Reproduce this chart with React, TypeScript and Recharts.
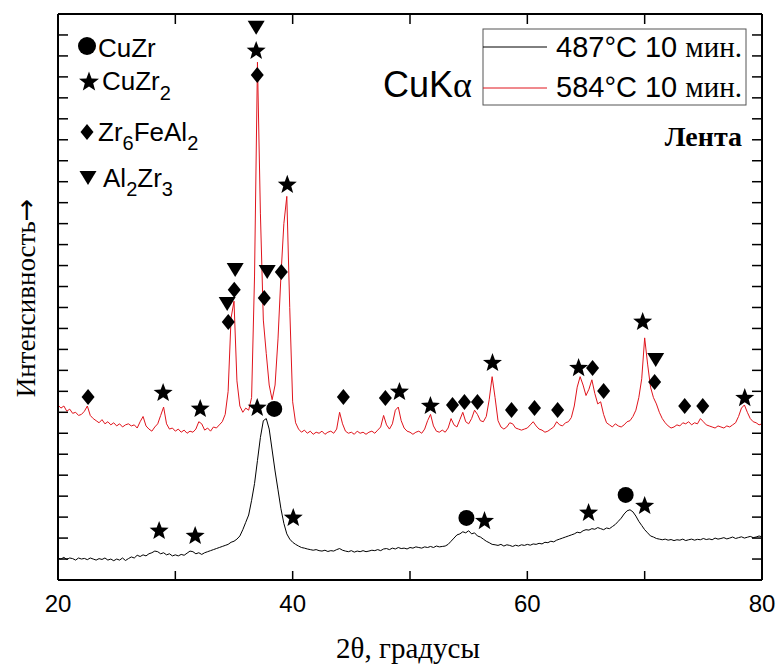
import { ComposedChart, Line, Scatter, XAxis, YAxis } from "recharts";

// 2θ sampling grid, degrees (step 0.25 from 20 to 80)
const thetaStart = 20;
const thetaStep = 0.25;

// 487°C 10 min (black), arbitrary units
const black487 = [
  1.05, 1.0, 1.08, 0.98, 1.05, 1.02, 0.95, 1.05, // 20
  1.0, 1.03, 0.97, 1.05, 1.0, 0.95, 1.02, 0.98, // 22
  1.05, 0.95, 1.0, 0.92, 1.0, 0.95, 1.05, 0.93, // 24
  1.02, 1.1, 1.05, 1.18, 1.12, 1.2, 1.15, 1.25, // 26
  1.3, 1.38, 1.35, 1.25, 1.3, 1.2, 1.25, 1.15, // 28
  1.2, 1.15, 1.22, 1.18, 1.28, 1.38, 1.35, 1.25, // 30
  1.3, 1.22, 1.3, 1.35, 1.4, 1.45, 1.5, 1.55, // 32
  1.6, 1.65, 1.7, 1.8, 1.85, 1.95, 2.1, 2.4, // 34
  2.75, 3.1, 3.8, 4.6, 5.7, 6.8, 7.6, 7.7, // 36
  7.2, 6.2, 5.2, 4.3, 3.4, 2.7, 2.2, 1.95, // 38
  1.8, 1.7, 1.62, 1.55, 1.52, 1.48, 1.45, 1.42, // 40
  1.45, 1.4, 1.38, 1.42, 1.36, 1.4, 1.38, 1.45, // 42
  1.5, 1.42, 1.38, 1.35, 1.4, 1.33, 1.38, 1.35, // 44
  1.4, 1.35, 1.38, 1.42, 1.4, 1.45, 1.4, 1.48, // 46
  1.5, 1.45, 1.52, 1.48, 1.55, 1.5, 1.52, 1.48, // 48
  1.55, 1.52, 1.58, 1.55, 1.52, 1.58, 1.55, 1.6, // 50
  1.55, 1.62, 1.58, 1.6, 1.62, 1.7, 1.85, 2.0, // 52
  2.15, 2.2, 2.3, 2.25, 2.35, 2.2, 2.25, 2.1, // 54
  2.05, 1.95, 1.85, 1.78, 1.7, 1.68, 1.65, 1.7, // 56
  1.62, 1.68, 1.65, 1.6, 1.66, 1.62, 1.68, 1.65, // 58
  1.7, 1.66, 1.72, 1.7, 1.75, 1.72, 1.8, 1.78, // 60
  1.85, 1.82, 1.9, 1.95, 2.0, 2.05, 2.1, 2.15, // 62
  2.2, 2.28, 2.25, 2.35, 2.4, 2.38, 2.45, 2.42, // 64
  2.5, 2.45, 2.4, 2.48, 2.45, 2.55, 2.65, 2.8, // 66
  2.95, 3.15, 3.3, 3.35, 3.25, 3.05, 2.8, 2.6, // 68
  2.4, 2.25, 2.1, 2.05, 1.98, 1.95, 1.92, 1.95, // 70
  1.9, 1.93, 1.88, 1.92, 1.9, 1.95, 1.88, 1.92, // 72
  1.95, 1.9, 1.94, 1.92, 1.98, 1.93, 1.96, 1.92, // 74
  2.0, 1.95, 1.98, 2.02, 1.96, 2.0, 2.05, 1.98, // 76
  2.02, 2.06, 2.0, 2.04, 2.08, 2.02, 2.05, 2.1, // 78
  2.06,
];

// 584°C 10 min (red)
const red584 = [
  8.35, 8.2, 8.3, 8.05, 8.15, 7.95, 8.0, 7.85, // 20
  7.9, 8.05, 8.3, 7.85, 7.7, 7.6, 7.5, 7.65, // 22
  7.45, 7.55, 7.4, 7.5, 7.35, 7.45, 7.3, 7.4, // 24
  7.45, 7.35, 7.4, 7.25, 7.55, 7.8, 7.35, 7.2, // 26
  7.1, 7.3, 7.45, 7.85, 8.25, 7.45, 7.2, 7.25, // 28
  7.1, 7.2, 7.05, 7.15, 7.0, 7.1, 7.05, 7.2, // 30
  7.55, 7.45, 7.15, 7.25, 7.1, 7.3, 7.25, 7.4, // 32
  7.55, 7.9, 9.0, 12.5, 13.3, 9.5, 8.3, 8.0, // 34
  8.2, 8.1, 8.7, 14.5, 24.7, 17.5, 12.4, 10.8, // 36
  9.3, 8.6, 9.3, 11.5, 14.5, 17.0, 18.3, 13.0, // 38
  8.5, 7.5, 7.2, 7.05, 7.15, 7.0, 7.1, 6.95, // 40
  7.05, 7.0, 7.1, 6.95, 7.05, 7.1, 7.0, 7.2, // 42
  8.0, 7.45, 7.1, 7.0, 7.05, 6.95, 7.1, 7.0, // 44
  7.05, 6.95, 7.05, 7.1, 7.0, 7.15, 7.3, 7.85, // 46
  7.4, 7.2, 7.45, 8.1, 8.25, 7.6, 7.25, 7.1, // 48
  7.05, 6.95, 7.05, 7.1, 7.0, 7.2, 7.6, 7.9, // 50
  7.35, 7.1, 7.05, 7.15, 7.05, 7.25, 7.7, 7.4, // 52
  7.3, 7.65, 8.0, 7.55, 7.45, 7.7, 8.1, 7.9, // 54
  7.6, 7.55, 7.8, 8.6, 9.7, 8.7, 7.6, 7.3, // 56
  7.2, 7.3, 7.5, 7.45, 7.25, 7.2, 7.15, 7.2, // 58
  7.25, 7.4, 7.55, 7.35, 7.2, 7.15, 7.05, 7.1, // 60
  7.2, 7.3, 7.55, 7.4, 7.35, 7.5, 7.55, 7.75, // 62
  8.3, 9.2, 9.7, 9.3, 8.8, 9.1, 9.55, 8.9, // 64
  8.4, 8.5, 7.9, 7.5, 7.4, 7.3, 7.45, 7.35, // 66
  7.3, 7.4, 7.55, 7.6, 7.8, 8.1, 8.7, 9.6, // 68
  11.55, 10.3, 9.2, 8.7, 8.4, 8.0, 7.7, 7.5, // 70
  7.35, 7.25, 7.3, 7.4, 7.35, 7.5, 7.45, 7.55, // 72
  7.4, 7.5, 7.45, 7.7, 7.55, 7.4, 7.35, 7.3, // 74
  7.25, 7.35, 7.3, 7.25, 7.35, 7.3, 7.4, 7.5, // 76
  7.8, 8.2, 8.35, 8.0, 7.7, 7.55, 7.5, 7.4, // 78
  7.45,
];

// phase markers: [2θ, height]
const cuZrMarks = [
  [38.43, 8.16], [54.81, 2.96], [68.38, 4.06],
];
const cuZr2Marks = [
  [28.96, 8.92], [32.12, 8.16], [36.89, 25.24], [39.54, 18.85], [49.1, 8.97],
  [51.74, 8.3], [57.03, 10.35], [64.37, 10.11], [69.83, 12.31], [78.53, 8.68],
  [36.98, 8.21], [28.62, 2.34], [31.69, 2.1], [40.05, 2.96], [56.35, 2.81],
  [65.22, 3.2], [70.0, 3.53],
];
const zr6FeAl2Marks = [
  [22.56, 8.73], [34.51, 12.31], [35.02, 13.84], [36.98, 24.09], [37.58, 13.45],
  [39.03, 14.69], [44.32, 8.73], [47.9, 8.68], [53.62, 8.35], [54.64, 8.49],
  [55.75, 8.49], [58.65, 8.11], [60.61, 8.21], [62.58, 8.11], [65.56, 10.11],
  [66.5, 9.02], [70.85, 9.45], [73.41, 8.3], [74.95, 8.3],
];
const al2Zr3Marks = [
  [34.42, 13.17], [35.1, 14.79], [36.89, 26.34], [37.83, 14.69], [70.94, 10.5],
];

const xTicks = [20, 30, 40, 50, 60, 70, 80];
const xLabels = [20, 40, 60, 80];
const yTicks = [
  1, 2, 3, 4, 5, 6, 7, 8, 9, 10, 11, 12, 13, 14, 15, 16, 17, 18, 19, 20, 21,
  22, 23, 24, 25, 26,
];

const table = red584.map((red, i) => ({
  t: thetaStart + i * thetaStep,
  red,
  black: black487[i],
}));

const toPoints = (marks: number[][]) => marks.map(([t, v]) => ({ t, v }));

const SANS = "'Liberation Sans', Arial, sans-serif";
const SERIF = "'Liberation Serif', 'Times New Roman', serif";
const RED = "#e0141c";

function starPath(cx: number, cy: number, R: number, r: number) {
  const pts: string[] = [];
  for (let k = 0; k < 10; k++) {
    const rad = k % 2 === 0 ? R : r;
    const a = -Math.PI / 2 + (k * Math.PI) / 5;
    pts.push(`${cx + rad * Math.cos(a)},${cy + rad * Math.sin(a)}`);
  }
  return pts.join(" ");
}

const Star = ({ cx, cy, R = 10 }: any) => (
  <polygon points={starPath(cx, cy, R, R * 0.42)} fill="#000" />
);
const Diamond = ({ cx, cy }: any) => (
  <polygon
    points={`${cx},${cy - 8} ${cx + 6.5},${cy} ${cx},${cy + 8} ${cx - 6.5},${cy}`}
    fill="#000"
  />
);
const Dot = ({ cx, cy, r = 8 }: any) => <circle cx={cx} cy={cy} r={r} fill="#000" />;
const Tri = ({ cx, cy }: any) => (
  <polygon
    points={`${cx - 8.5},${cy - 7} ${cx + 8.5},${cy - 7} ${cx},${cy + 7}`}
    fill="#000"
  />
);

const BottomTick = ({ x, y, payload }: any) => (
  <g>
    <line x1={x} x2={x} y1={y} y2={y - 9} stroke="#000" strokeWidth={1.5} />
    {xLabels.includes(payload.value) && (
      <text x={x} y={y + 32} textAnchor="middle" fontSize={24} fontFamily={SANS}>
        {payload.value}
      </text>
    )}
  </g>
);
const TopTick = ({ x, y, payload }: any) =>
  payload.value > 20 && payload.value < 80 ? (
    <line x1={x} x2={x} y1={y} y2={y + 10} stroke="#000" strokeWidth={1.5} />
  ) : (
    <g />
  );
const LeftTick = ({ x, y }: any) => (
  <line x1={x} x2={x + 10} y1={y} y2={y} stroke="#000" strokeWidth={1.5} />
);
const RightTick = ({ x, y }: any) => (
  <line x1={x} x2={x - 10} y1={y} y2={y} stroke="#000" strokeWidth={1.5} />
);

const frame = { stroke: "#000", strokeWidth: 2 };

export default function App() {
  return (
    <div
      style={{
        position: "absolute",
        left: 0,
        top: 0,
        width: 776,
        height: 665,
        background: "#fff",
      }}
    >
      <ComposedChart
        width={776}
        height={665}
        data={table}
        margin={{ top: 13, right: 13, bottom: 84, left: 57 }}
      >
        <XAxis
          dataKey="t"
          type="number"
          domain={[20, 80]}
          ticks={xTicks}
          interval={0}
          allowDataOverflow
          height={1}
          tickSize={0}
          tickMargin={0}
          tickLine={false}
          axisLine={frame}
          tick={<BottomTick />}
        />
        <XAxis
          xAxisId="top"
          orientation="top"
          dataKey="t"
          type="number"
          domain={[20, 80]}
          ticks={xTicks}
          interval={0}
          allowDataOverflow
          height={1}
          tickSize={0}
          tickMargin={0}
          tickLine={false}
          axisLine={frame}
          tick={<TopTick />}
        />
        <YAxis
          type="number"
          domain={[0, 27]}
          ticks={yTicks}
          interval={0}
          allowDataOverflow
          width={1}
          tickSize={0}
          tickMargin={0}
          tickLine={false}
          axisLine={frame}
          tick={<LeftTick />}
        />
        <YAxis
          yAxisId="right"
          orientation="right"
          type="number"
          domain={[0, 27]}
          ticks={yTicks}
          interval={0}
          allowDataOverflow
          width={1}
          tickSize={0}
          tickMargin={0}
          tickLine={false}
          axisLine={frame}
          tick={<RightTick />}
        />
        <Line
          dataKey="black"
          stroke="#000"
          strokeWidth={1}
          dot={false}
          isAnimationActive={false}
        />
        <Line
          dataKey="red"
          stroke={RED}
          strokeWidth={1}
          dot={false}
          isAnimationActive={false}
        />
        <Scatter
          data={toPoints(cuZrMarks)}
          dataKey="v"
          shape={<Dot />}
          isAnimationActive={false}
        />
        <Scatter
          data={toPoints(cuZr2Marks)}
          dataKey="v"
          shape={<Star />}
          isAnimationActive={false}
        />
        <Scatter
          data={toPoints(zr6FeAl2Marks)}
          dataKey="v"
          shape={<Diamond />}
          isAnimationActive={false}
        />
        <Scatter
          data={toPoints(al2Zr3Marks)}
          dataKey="v"
          shape={<Tri />}
          isAnimationActive={false}
        />
      </ComposedChart>

      <svg
        width={776}
        height={665}
        style={{ position: "absolute", left: 0, top: 0, pointerEvents: "none" }}
      >
        {/* phase legend */}
        <Dot cx={87} cy={46} r={9} />
        <text x={98} y={57} fontSize={26} fontFamily={SANS}>CuZr</text>
        <Star cx={89} cy={82} R={10.5} />
        <text x={102} y={90} fontSize={26} fontFamily={SANS}>
          CuZr<tspan dy={10} fontSize={20}>2</tspan>
        </text>
        <Diamond cx={87} cy={132} />
        <text x={98} y={141} fontSize={26} fontFamily={SANS}>
          Zr<tspan dy={9} fontSize={20}>6</tspan>
          <tspan dy={-9}>FeAl</tspan>
          <tspan dy={9} fontSize={20}>2</tspan>
        </text>
        <Tri cx={88} cy={178} />
        <text x={103} y={187} fontSize={26} fontFamily={SANS}>
          Al<tspan dy={9} fontSize={20}>2</tspan>
          <tspan dy={-9}>Zr</tspan>
          <tspan dy={9} fontSize={20}>3</tspan>
        </text>

        {/* series legend */}
        <rect x={483} y={29} width={263} height={76} fill="#fff" stroke="#555" strokeWidth={1} />
        <line x1={483} x2={547} y1={47} y2={47} stroke="#000" strokeWidth={1} />
        <line x1={483} x2={547} y1={88} y2={88} stroke={RED} strokeWidth={1} />
        <text x={556} y={57} fontSize={29} fontFamily={SANS}>
          487°C 10 <tspan fontFamily={SERIF}>мин.</tspan>
        </text>
        <text x={556} y={97} fontSize={29} fontFamily={SANS}>
          584°C 10 <tspan fontFamily={SERIF}>мин.</tspan>
        </text>
        <text x={383} y={97} fontSize={36} fontFamily={SANS}>
          CuK<tspan fontFamily={SERIF}>α</tspan>
        </text>
        <text x={742} y={146} textAnchor="end" fontSize={28} fontWeight="bold" fontFamily={SERIF}>
          Лента
        </text>

        {/* axis titles */}
        <text
          transform="translate(35,298) rotate(-90)"
          textAnchor="middle"
          fontSize={27}
          fontFamily={SERIF}
        >
          Интенсивность<tspan fontFamily="'DejaVu Sans', sans-serif">→</tspan>
        </text>
        <text x={408} y={658} textAnchor="middle" fontSize={29} fontFamily={SERIF}>
          2θ, градусы
        </text>
      </svg>
    </div>
  );
}
